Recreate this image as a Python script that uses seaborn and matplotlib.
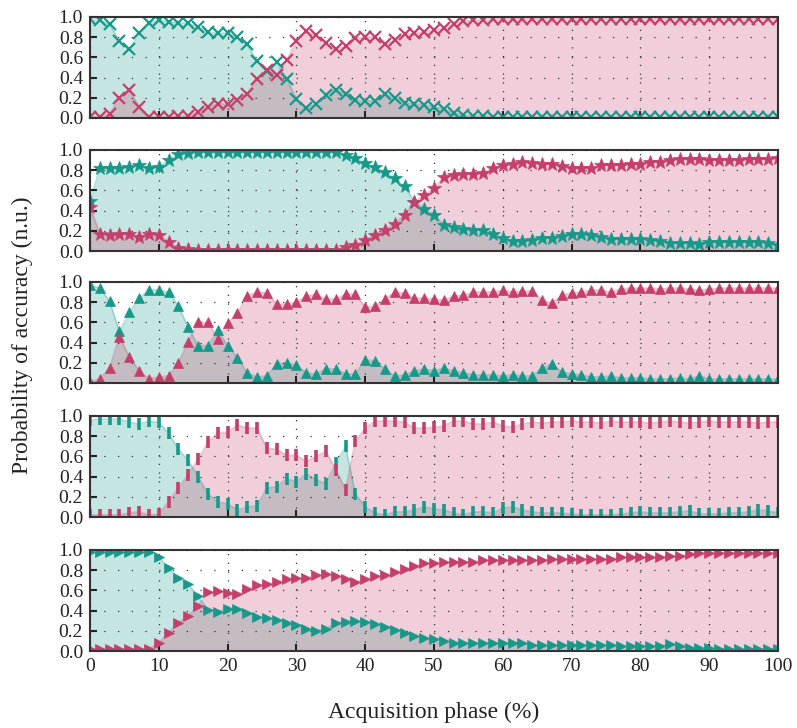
import numpy as np
import pandas as pd
import matplotlib
matplotlib.use('Agg')
import matplotlib.pyplot as plt
import seaborn as sns

sns.set_style('ticks')
plt.rcParams['font.family'] = ['Liberation Serif', 'DejaVu Serif']

# acquisition phase (%), 71 samples per curve
phase = np.linspace(0, 100, 71)

teal_1 = [0.98, 0.97, 0.93, 0.76, 0.68, 0.84, 0.94, 0.97, 0.95, 0.94, 0.94, 0.90, 0.85, 0.84, 0.84, 0.80,
          0.73, 0.56, 0.47, 0.55, 0.39, 0.19, 0.10, 0.14, 0.23, 0.28, 0.24, 0.18, 0.17, 0.17, 0.24, 0.20,
          0.15, 0.14, 0.13, 0.11, 0.09, 0.05, 0.03, 0.02, 0.02, 0.01, 0.01, 0.01, 0.01, 0.01, 0.01, 0.01,
          0.01, 0.01, 0.01, 0.01, 0.01, 0.01, 0.01, 0.01, 0.01, 0.01, 0.01, 0.01, 0.01, 0.01, 0.01, 0.01,
          0.01, 0.01, 0.01, 0.01, 0.01, 0.01, 0.01]
crimson_1 = [0.01, 0.01, 0.04, 0.20, 0.28, 0.11, 0.01, 0.01, 0.01, 0.02, 0.02, 0.06, 0.11, 0.14, 0.14, 0.18,
             0.24, 0.39, 0.48, 0.43, 0.57, 0.76, 0.86, 0.82, 0.74, 0.68, 0.71, 0.79, 0.80, 0.80, 0.73, 0.77,
             0.83, 0.84, 0.85, 0.87, 0.89, 0.93, 0.96, 0.97, 0.97, 0.98, 0.98, 0.98, 0.98, 0.98, 0.98, 0.98,
             0.98, 0.98, 0.98, 0.98, 0.98, 0.98, 0.98, 0.98, 0.98, 0.98, 0.98, 0.98, 0.98, 0.98, 0.98, 0.98,
             0.98, 0.98, 0.98, 0.98, 0.98, 0.98, 0.98]

teal_2 = [0.50, 0.82, 0.82, 0.82, 0.83, 0.85, 0.82, 0.83, 0.90, 0.96, 0.97, 0.98, 0.98, 0.98, 0.98, 0.98,
          0.98, 0.98, 0.98, 0.98, 0.98, 0.98, 0.98, 0.98, 0.98, 0.98, 0.95, 0.92, 0.87, 0.83, 0.78, 0.72,
          0.64, 0.49, 0.42, 0.36, 0.26, 0.24, 0.22, 0.21, 0.21, 0.17, 0.13, 0.10, 0.10, 0.11, 0.13, 0.13,
          0.15, 0.17, 0.17, 0.16, 0.14, 0.12, 0.12, 0.12, 0.12, 0.11, 0.10, 0.08, 0.08, 0.08, 0.07, 0.09,
          0.09, 0.09, 0.09, 0.09, 0.09, 0.08, 0.06]
crimson_2 = [0.44, 0.17, 0.16, 0.17, 0.17, 0.14, 0.17, 0.16, 0.09, 0.03, 0.02, 0.01, 0.01, 0.01, 0.01, 0.01,
             0.01, 0.01, 0.01, 0.01, 0.01, 0.01, 0.01, 0.01, 0.01, 0.01, 0.04, 0.06, 0.11, 0.16, 0.21, 0.27,
             0.36, 0.49, 0.55, 0.62, 0.73, 0.75, 0.76, 0.76, 0.77, 0.82, 0.85, 0.86, 0.88, 0.87, 0.86, 0.86,
             0.84, 0.82, 0.82, 0.82, 0.85, 0.85, 0.85, 0.86, 0.86, 0.88, 0.88, 0.90, 0.91, 0.91, 0.91, 0.90,
             0.90, 0.90, 0.90, 0.91, 0.91, 0.91, 0.92]

teal_3 = [0.97, 0.94, 0.81, 0.51, 0.70, 0.84, 0.92, 0.92, 0.90, 0.76, 0.55, 0.37, 0.37, 0.52, 0.37, 0.25,
          0.10, 0.06, 0.07, 0.19, 0.20, 0.18, 0.10, 0.09, 0.14, 0.14, 0.09, 0.09, 0.23, 0.22, 0.14, 0.07,
          0.08, 0.12, 0.14, 0.12, 0.15, 0.12, 0.10, 0.08, 0.08, 0.08, 0.07, 0.08, 0.07, 0.07, 0.15, 0.19,
          0.11, 0.09, 0.08, 0.06, 0.06, 0.07, 0.05, 0.05, 0.05, 0.04, 0.04, 0.04, 0.05, 0.04, 0.07, 0.04,
          0.04, 0.04, 0.04, 0.04, 0.04, 0.04, 0.04]
crimson_3 = [0.01, 0.04, 0.15, 0.46, 0.26, 0.12, 0.04, 0.06, 0.07, 0.20, 0.41, 0.60, 0.60, 0.44, 0.59, 0.69,
             0.86, 0.90, 0.89, 0.78, 0.78, 0.80, 0.86, 0.88, 0.83, 0.83, 0.88, 0.88, 0.75, 0.76, 0.83, 0.90,
             0.89, 0.84, 0.84, 0.83, 0.82, 0.86, 0.87, 0.90, 0.90, 0.90, 0.92, 0.90, 0.91, 0.91, 0.82, 0.79,
             0.87, 0.89, 0.90, 0.92, 0.92, 0.90, 0.93, 0.94, 0.94, 0.94, 0.93, 0.94, 0.94, 0.93, 0.92, 0.93,
             0.94, 0.94, 0.94, 0.94, 0.94, 0.94, 0.94]

teal_4 = [0.96, 0.97, 0.97, 0.97, 0.94, 0.92, 0.95, 0.94, 0.83, 0.67, 0.56, 0.40, 0.23, 0.15, 0.13, 0.07,
          0.10, 0.11, 0.29, 0.30, 0.38, 0.35, 0.43, 0.37, 0.33, 0.53, 0.70, 0.23, 0.10, 0.04, 0.02, 0.05,
          0.05, 0.07, 0.10, 0.08, 0.07, 0.04, 0.02, 0.05, 0.05, 0.04, 0.09, 0.10, 0.07, 0.05, 0.04, 0.04,
          0.04, 0.03, 0.02, 0.02, 0.02, 0.02, 0.03, 0.04, 0.05, 0.04, 0.04, 0.04, 0.05, 0.06, 0.03, 0.03,
          0.03, 0.04, 0.04, 0.05, 0.07, 0.06, 0.04]
crimson_4 = [0.02, 0.02, 0.02, 0.02, 0.04, 0.05, 0.02, 0.03, 0.15, 0.29, 0.42, 0.57, 0.74, 0.83, 0.84, 0.91,
             0.88, 0.88, 0.68, 0.67, 0.61, 0.61, 0.55, 0.60, 0.65, 0.47, 0.27, 0.75, 0.88, 0.95, 0.95, 0.95,
             0.94, 0.88, 0.88, 0.89, 0.90, 0.95, 0.95, 0.92, 0.92, 0.94, 0.90, 0.89, 0.92, 0.94, 0.93, 0.94,
             0.94, 0.95, 0.94, 0.94, 0.93, 0.95, 0.94, 0.94, 0.94, 0.93, 0.94, 0.95, 0.94, 0.93, 0.94, 0.95,
             0.94, 0.94, 0.94, 0.94, 0.93, 0.94, 0.94]

teal_5 = [0.98, 0.98, 0.98, 0.98, 0.98, 0.98, 0.98, 0.93, 0.82, 0.72, 0.66, 0.54, 0.41, 0.39, 0.42, 0.42,
          0.38, 0.34, 0.33, 0.31, 0.28, 0.26, 0.22, 0.20, 0.22, 0.28, 0.29, 0.30, 0.29, 0.27, 0.24, 0.21,
          0.18, 0.15, 0.13, 0.12, 0.10, 0.08, 0.08, 0.08, 0.08, 0.08, 0.08, 0.08, 0.08, 0.06, 0.06, 0.06,
          0.06, 0.06, 0.06, 0.06, 0.06, 0.06, 0.05, 0.05, 0.05, 0.05, 0.05, 0.07, 0.05, 0.03, 0.03, 0.03,
          0.02, 0.02, 0.02, 0.02, 0.02, 0.02, 0.02]
crimson_5 = [0.02, 0.02, 0.02, 0.02, 0.02, 0.02, 0.02, 0.08, 0.18, 0.28, 0.35, 0.45, 0.58, 0.59, 0.57, 0.56,
             0.61, 0.65, 0.66, 0.68, 0.71, 0.72, 0.72, 0.75, 0.76, 0.74, 0.71, 0.68, 0.71, 0.74, 0.75, 0.78,
             0.81, 0.84, 0.87, 0.87, 0.88, 0.88, 0.88, 0.88, 0.90, 0.90, 0.90, 0.90, 0.90, 0.90, 0.90, 0.91,
             0.91, 0.91, 0.91, 0.91, 0.91, 0.91, 0.93, 0.93, 0.93, 0.93, 0.93, 0.94, 0.94, 0.96, 0.97, 0.97,
             0.97, 0.97, 0.97, 0.97, 0.97, 0.97, 0.97]

TEAL = '#17998a'
CRIMSON = '#c53f6c'

# (teal, crimson, marker, markersize, markeredgewidth)
panels = [
    (teal_1, crimson_1, 'x', 8, 1.6),
    (teal_2, crimson_2, '*', 10, 0.5),
    (teal_3, crimson_3, '^', 7.5, 0.5),
    (teal_4, crimson_4, '|', 8, 2.6),
    (teal_5, crimson_5, '>', 7, 0.5),
]

fig = plt.figure(figsize=(7.97, 7.28), dpi=100)
left, width = 90 / 797, 688 / 797
tops = [17, 150, 282, 416, 550]
height_px = 101

for k, ((teal, crimson, m, ms, mew), top) in enumerate(zip(panels, tops)):
    ax = fig.add_axes([left, 1 - (top + height_px) / 728, width, height_px / 728])
    for vals, color in ((teal, TEAL), (crimson, CRIMSON)):
        ax.fill_between(phase, vals, color=color, alpha=0.25, lw=0, zorder=1)
        sns.lineplot(x=phase, y=vals, color=color, alpha=0.3, lw=1.2, ax=ax, zorder=1.5)
        sns.lineplot(x=phase, y=vals, color=color, marker=m, ms=ms, mec=color, mew=mew,
                     linestyle='none', ax=ax, zorder=3)

    ax.set_xlim(0, 100)
    ax.set_ylim(0, 1)
    ax.set_xticks(np.arange(0, 101, 10))
    ax.set_yticks(np.arange(0, 1.01, 0.2))
    ax.set_yticklabels([f'{v:.1f}' for v in np.arange(0, 1.01, 0.2)])
    ax.set_xlabel('')
    ax.set_ylabel('')
    ax.set_axisbelow(False)
    ax.xaxis.grid(True, color='#333333', lw=0.9, ls=(0, (1, 6)))
    ax.yaxis.grid(True, color='#333333', lw=0.9, ls=(0, (1, 10)))
    ax.tick_params(direction='in', length=5, width=1.5, labelsize=14, pad=5, colors='#222222')
    ax.tick_params(labelbottom=(k == len(panels) - 1))
    for sp in ax.spines.values():
        sp.set_color('#333333')
        sp.set_linewidth(1.5)
        sp.set_zorder(4)

fig.text(22 / 797, 1 - 335 / 728, 'Probability of accuracy (n.u.)', rotation=90,
         ha='center', va='center', fontsize=17, color='#222222')
fig.text(434 / 797, 1 - 712 / 728, 'Acquisition phase (%)', ha='center', va='center',
         fontsize=17, color='#222222')

fig.savefig('out.png', dpi=100)
